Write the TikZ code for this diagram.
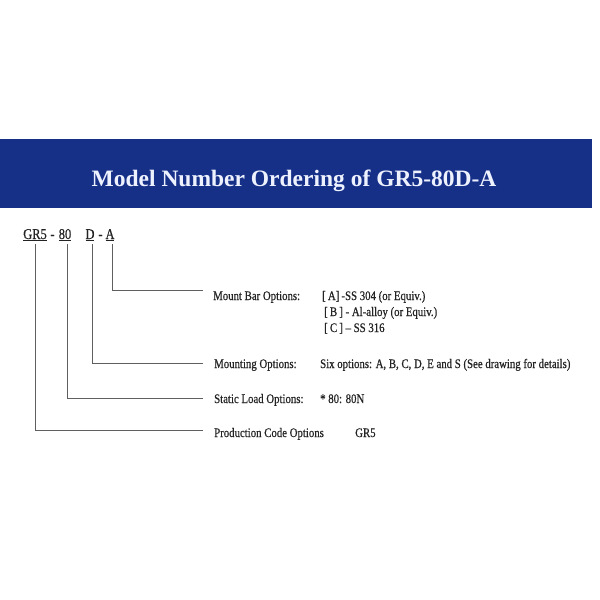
\documentclass[tikz,border=0pt]{standalone}
\usepackage{fontspec}
\setmainfont{Liberation Serif}[FakeStretch=0.83,FakeBold=0.5]
\newfontfamily\titlefont{Liberation Serif}
\usetikzlibrary{positioning}
\definecolor{banner}{RGB}{22,48,136}
\definecolor{ink}{RGB}{35,35,35}
\definecolor{wire}{RGB}{95,95,95}

\tikzset{
  code/.style={inner sep=0pt, anchor=base, text=ink, font=\fontsize{15}{15}\selectfont},
  lbl/.style={inner sep=0pt, anchor=base west, text=ink, font=\fontsize{13}{16}\selectfont},
  wire/.style={draw=wire, line width=0.9pt},
}

\begin{document}
\begin{tikzpicture}[x=1pt,y=-1pt]
  \useasboundingbox[fill=white] (0,0) rectangle (600,600);
  \fill[banner] (0,139) rectangle (592,208);
  \node[inner sep=0pt, anchor=base, text={rgb,255:red,238;green,242;blue,255},
        font=\titlefont\fontsize{23.5}{23.5}\selectfont\bfseries] (title) at (294,186) {Model Number Ordering of GR5-80D-A};

  % code parts
  \node[code] (gr) at (35,239) {\underline{GR5}};
  \node[code] at (52.5,239) {\textbf{-}};
  \node[code] (ld) at (65,239) {\underline{80}};
  \node[code] (mt) at (90,239) {\underline{D}};
  \node[code] at (100.5,239) {\textbf{-}};
  \node[code] (mb) at (110,239) {\underline{A}};

  % option labels
  \node[lbl] (mbl) at (213,300) {Mount Bar Options:};
  \node[lbl] (mba) at (322,300) {[\,A]\,-SS 304 (or Equiv.)};
  \node[lbl] (mbb) at (324,316) {[\,B\,] - Al-alloy (or Equiv.)};
  \node[lbl] (mbc) at (324,332) {[\,C\,] -- SS 316};
  \node[lbl] (mtl) at (214,368) {Mounting Options:};
  \node[lbl] (mtv) at (320,368) {Six options: A, B, C, D, E and S (See drawing for details)};
  \node[lbl] (ldl) at (214,403) {Static Load Options:};
  \node[lbl] (ldv) at (320,403) {* 80: 80N};
  \node[lbl] (grl) at (214,437) {Production Code Options};
  \node[lbl] (grv) at (355,437) {GR5};

  % connectors
  \draw[wire] ([xshift=2pt,yshift=-3pt]mb.south) |- ([xshift=-10pt,yshift=7pt]mbl.west);
  \draw[wire] ([xshift=2pt,yshift=-3pt]mt.south) |- ([xshift=-11pt,yshift=2pt]mtl.west);
  \draw[wire] ([xshift=2pt,yshift=-3pt]ld.south) |- ([xshift=-11pt,yshift=1pt]ldl.west);
  \draw[wire] ([yshift=-3pt]gr.south) |- ([xshift=-11pt,yshift=3pt]grl.west);
\end{tikzpicture}
\end{document}
